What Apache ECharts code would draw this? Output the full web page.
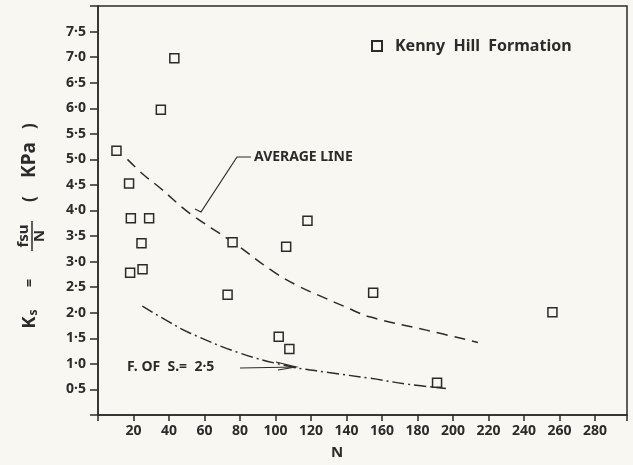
<!DOCTYPE html>
<html>
<head>
<meta charset="utf-8">
<script src="https://cdn.jsdelivr.net/npm/echarts@6/dist/echarts.min.js"></script>
<style>
  html, body { margin: 0; padding: 0; background: #f8f7f1; }
  #chart { width: 633px; height: 465px; }
</style>
</head>
<body>
<div id="chart"></div>
<script>
// measured points, Kenny Hill Formation (N, Ks)
const pointN = [10.4, 43, 35.4, 17.5, 18.5, 28.8, 24.5, 18.1, 25.1, 75.8, 118, 106, 73, 101.8, 107.8, 155, 256, 191];
const pointKs = [5.17, 6.98, 5.97, 4.53, 3.85, 3.85, 3.36, 2.78, 2.85, 3.38, 3.80, 3.29, 2.35, 1.53, 1.29, 2.39, 2.01, 0.63];

// average line as drawn
const avgN = [16.6, 25, 35, 51.5, 76, 99, 113, 127, 139, 153, 185, 214];
const avgKs = [5.0, 4.72, 4.44, 3.95, 3.38, 2.80, 2.52, 2.30, 2.12, 1.92, 1.66, 1.42];

// factor of safety = 2.5 line as drawn
const fsN = [25, 40, 52, 80, 108, 130, 153, 175, 196];
const fsKs = [2.13, 1.82, 1.60, 1.21, 0.95, 0.83, 0.72, 0.60, 0.52];

const ink = '#2b2b2b';
const paper = '#f8f7f1';
const font = 'Noto Sans';

const zip = (xs, ys) => xs.map((x, i) => [x, ys[i]]);

const chart = echarts.init(document.getElementById('chart'));

// y axis title: Ks = fsu / N ( KPa ), read bottom to top
const rot = Math.PI / 2;
const titleText = (x, y, text, size) => ({
  type: 'text', x: x, y: y, rotation: rot,
  style: { text: text, fill: ink, font: 'bold ' + size + 'px ' + font, align: 'center', verticalAlign: 'middle' }
});

chart.setOption({
  backgroundColor: paper,
  animation: false,
  grid: {
    left: 98, top: 6, right: 6, bottom: 50,
    show: true, borderColor: ink, borderWidth: 1.5
  },
  legend: {
    data: ['Kenny Hill Formation'],
    left: 366, top: 33,
    itemWidth: 10, itemHeight: 10,
    formatter: name => name.split(' ').join('  '),
    textStyle: { fontFamily: font, fontSize: 16, fontWeight: 'bold', color: ink, padding: [0, 0, 0, 8] }
  },
  xAxis: {
    type: 'value', min: 0, max: 298, interval: 20,
    axisLine: { lineStyle: { color: ink, width: 1.5 } },
    axisTick: { length: 6, lineStyle: { color: ink, width: 1.5 } },
    axisLabel: {
      color: ink, fontFamily: font, fontSize: 14, fontWeight: 'bold', margin: 9,
      formatter: v => (v > 0 && v <= 280 && v % 20 === 0) ? String(v) : ''
    },
    splitLine: { show: false }
  },
  yAxis: {
    type: 'value', min: 0, max: 8, interval: 0.5,
    axisLine: { show: true, lineStyle: { color: ink, width: 1.5 } },
    axisTick: { show: true, length: 8, lineStyle: { color: ink, width: 1.5 } },
    axisLabel: {
      color: ink, fontFamily: font, fontSize: 14, fontWeight: 'bold', margin: 12,
      formatter: v => (v > 0 && v < 8) ? v.toFixed(1).replace('.', '\u00b7') : ''
    },
    splitLine: { show: false }
  },
  series: [
    {
      name: 'Kenny Hill Formation',
      type: 'scatter',
      symbol: 'rect',
      symbolSize: 9,
      data: zip(pointN, pointKs),
      itemStyle: { color: paper, borderColor: ink, borderWidth: 1.5, opacity: 1 },
      z: 5
    },
    {
      name: 'Average line',
      type: 'line',
      smooth: 0.4,
      showSymbol: false,
      data: zip(avgN, avgKs),
      lineStyle: { color: ink, width: 1.5, type: [11, 7] }
    },
    {
      name: 'F. of S. 2.5',
      type: 'line',
      smooth: 0.4,
      showSymbol: false,
      data: zip(fsN, fsKs),
      lineStyle: { color: ink, width: 1.5, type: [12, 4, 2, 4] }
    }
  ],
  graphic: [
    // y axis title
    {
      type: 'text', x: 30, y: 319, rotation: rot,
      style: {
        text: '{k|K}{s|s}', align: 'center', verticalAlign: 'middle',
        rich: {
          k: { fill: ink, fontFamily: font, fontWeight: 'bold', fontSize: 18 },
          s: { fill: ink, fontFamily: font, fontWeight: 'bold', fontSize: 12, verticalAlign: 'bottom', padding: [7, 0, 0, 1] }
        }
      }
    },
    titleText(30, 283, '=', 14),
    titleText(24, 236, 'fsu', 15),
    titleText(40, 236, 'N', 15),
    { type: 'line', shape: { x1: 32, y1: 221, x2: 32, y2: 251 }, style: { stroke: ink, lineWidth: 1.5 } },
    titleText(30, 199, '(', 17),
    titleText(30, 160, 'KPa', 19),
    titleText(30, 126, ')', 17),
    // x axis title
    {
      type: 'text', x: 337, y: 453,
      style: { text: 'N', fill: ink, font: 'bold 15px ' + font, align: 'center', verticalAlign: 'middle' }
    },
    // average line callout
    {
      type: 'text', x: 254, y: 157,
      style: { text: 'AVERAGE LINE', fill: ink, font: 'bold 14px ' + font, align: 'left', verticalAlign: 'middle' }
    },
    {
      type: 'polyline',
      shape: { points: [[251, 157], [237, 157], [201, 212], [195, 209]] },
      style: { stroke: ink, lineWidth: 1.2, fill: null }
    },
    // factor of safety callout
    {
      type: 'text', x: 127, y: 367,
      style: { text: 'F. OF  S.=  2\u00b75', fill: ink, font: 'bold 14px ' + font, align: 'left', verticalAlign: 'middle' }
    },
    {
      type: 'polyline',
      shape: { points: [[240, 368], [296, 367]] },
      style: { stroke: ink, lineWidth: 1.2, fill: null }
    },
    {
      type: 'polyline',
      shape: { points: [[276, 362], [296, 367], [278, 370]] },
      style: { stroke: ink, lineWidth: 1.2, fill: null }
    }
  ]
});
</script>
</body>
</html>
